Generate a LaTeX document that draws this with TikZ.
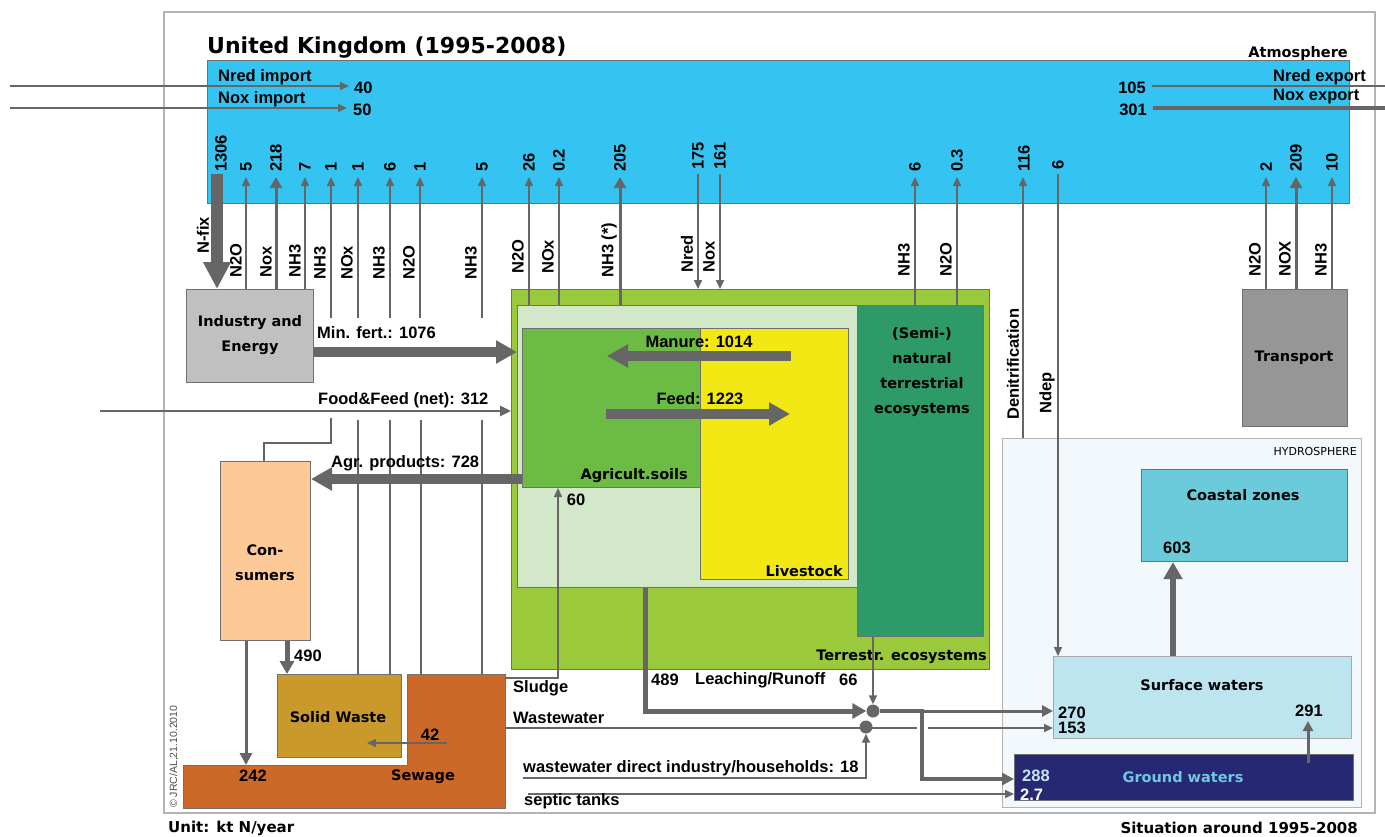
\documentclass[tikz,border=0pt]{standalone}
\usepackage{fontspec}
\setmainfont{Liberation Sans}
\newfontfamily\comic{DejaVu Sans}
\usetikzlibrary{arrows.meta}
\definecolor{arr}{HTML}{666666}
\definecolor{framec}{HTML}{B4B4B4}
\definecolor{boxline}{HTML}{707070}
\definecolor{atmc}{HTML}{35C4F1}
\definecolor{indc}{HTML}{C0C0C0}
\definecolor{agrc}{HTML}{9BC93C}
\definecolor{aglc}{HTML}{D3E8C8}
\definecolor{semic}{HTML}{2E9A68}
\definecolor{soilc}{HTML}{6BBB45}
\definecolor{livec}{HTML}{F2E914}
\definecolor{consc}{HTML}{FCC997}
\definecolor{solidc}{HTML}{C99A2B}
\definecolor{sewc}{HTML}{CC6828}
\definecolor{hydc}{HTML}{F2F8FC}
\definecolor{coastc}{HTML}{6BCBDB}
\definecolor{surfc}{HTML}{BDE5EF}
\definecolor{groundc}{HTML}{272874}
\definecolor{gwtext}{HTML}{6FC8E0}
\definecolor{gwnum}{HTML}{C8E4F4}
\definecolor{transc}{HTML}{969696}
\tikzset{
  box/.style={draw=boxline, line width=1pt, inner sep=0pt, anchor=north west},
  lab/.style={font=\bfseries\fontsize{16.5}{19}\selectfont, inner sep=0pt},
  rlab/.style={lab, rotate=90, anchor=west},
  clab/.style={font=\comic\bfseries\fontsize{14.5}{25}\selectfont, align=center, inner sep=0pt},
  fl/.style={draw=arr, line width=1.5pt},
  fla/.style={fl, -{Triangle[length=9pt,width=8pt]}},
  mfl/.style={draw=arr, line width=3pt, -{Triangle[length=11pt,width=12pt]}},
  bigfl/.style={draw=arr, line width=10pt, -{Triangle[length=21pt,width=22pt]}},
}
\begin{document}
\begin{tikzpicture}[x=1pt,y=-1pt]
\useasboundingbox (0,0) rectangle (1385,836);
\draw[framec, line width=1.5pt] (164,12) rectangle (1375,813);

% ---- boxes
\node[box, fill=atmc, minimum width=1142pt, minimum height=143pt] (atm) at (207,60) {};
\node[box, fill=indc, minimum width=127pt, minimum height=93pt] (ind) at (186,289) {};
\node[box, fill=agrc, minimum width=478pt, minimum height=380pt] (agr) at (511,289) {};
\node[box, fill=aglc, minimum width=340pt, minimum height=282pt] (agl) at (517,305) {};
\node[box, fill=semic, minimum width=126pt, minimum height=331pt] (semi) at (857,305) {};
\node[box, fill=soilc, minimum width=178pt, minimum height=159pt] (soils) at (522,328) {};
\node[box, fill=livec, minimum width=148pt, minimum height=251pt] (live) at (700,328) {};
\node[box, fill=consc, minimum width=90pt, minimum height=179pt] (cons) at (220,461) {};
\node[box, fill=solidc, minimum width=124pt, minimum height=83pt] (solid) at (277,674) {};
\draw[boxline, line width=1pt, fill=sewc] (407,674) -- (505,674) -- (505,808) -- (183,808) -- (183,765) -- (407,765) -- cycle;
\node[inner sep=0pt, minimum width=98pt, minimum height=134pt, anchor=north west] (sew) at (407,674) {};
\node[inner sep=0pt, minimum width=322pt, minimum height=43pt, anchor=north west] (sewlow) at (183,765) {};
\node[box, fill=hydc, draw=framec, minimum width=359pt, minimum height=369pt] (hyd) at (1002,438) {};
\node[box, fill=coastc, minimum width=206pt, minimum height=92pt] (coast) at (1141,469) {};
\node[box, fill=surfc, draw=boxline!60, minimum width=298pt, minimum height=82pt] (surf) at (1053,656) {};
\node[box, fill=groundc, minimum width=339pt, minimum height=46pt] (ground) at (1014,754) {};
\node[box, fill=transc, minimum width=105pt, minimum height=137pt] (trans) at (1242,289) {};

% ---- box texts
\node[font=\comic\bfseries\fontsize{22}{26}\selectfont, anchor=west, inner sep=0pt] (title) at (207,48) {United Kingdom (1995-2008)};
\node[clab, anchor=east] (atmlab) at (1348,53) {Atmosphere};
\node[clab] (indlab) at (250,335) {Industry and\\Energy};
\node[clab] (semilab) at (922,372) {(Semi-)\\natural\\terrestrial\\ecosystems};
\node[clab, anchor=east] (soillab) at (688,476) {Agricult.soils};
\node[clab, anchor=east] (livelab) at (843,571) {Livestock};
\node[clab] (conslab) at (265,563) {Con-\\sumers};
\node[clab] (solidlab) at (338,717) {Solid Waste};
\node[clab] (sewlab) at (423,777) {Sewage};
\node[clab, anchor=east] (terlab) at (987,657) {Terrestr. ecosystems};
\node[clab] (coastlab) at (1243,495) {Coastal zones};
\node[clab] (surflab) at (1202,685) {Surface waters};
\node[clab, text=gwtext] (gwlab) at (1183,777) {Ground waters};
\node[clab] (translab) at (1294,358) {Transport};
\node[font=\comic\fontsize{11}{13}\selectfont, anchor=east, inner sep=0pt] (hydlab) at (1357,451) {HYDROSPHERE};
\node[clab, anchor=west, font=\comic\bfseries\fontsize{15}{18}\selectfont] (unit) at (168,828) {Unit: kt N/year};
\node[clab, anchor=east, font=\comic\bfseries\fontsize{15}{18}\selectfont] (sit) at (1358,828) {Situation around 1995-2008};
\node[rotate=90, anchor=west, inner sep=0pt, font=\fontsize{10.5}{12}\selectfont, text=black!70] (copy) at (174,808) {\textcopyright{} JRC/AL,21.10.2010};

% ---- imports / exports
\coordinate (nredin) at (10,86);
\coordinate (noxin) at (10,108);
\coordinate (nredout) at (1385,86);
\coordinate (noxout) at (1385,108);
\draw[fla] (nredin) -- (349,86);
\draw[fla] (noxin) -- (347,108);
\draw[fl] (1152,86) -- (nredout);
\draw[draw=arr, line width=4pt] (1153,108) -- (noxout);
\node[lab, anchor=west] at (218,77) {Nred import};
\node[lab, anchor=west] at (218,99) {Nox import};
\node[lab, anchor=west] at (354,88) {40};
\node[lab, anchor=west] at (353,110) {50};
\node[lab, anchor=east] at (1146,88) {105};
\node[lab, anchor=east] at (1147,110) {301};
\node[lab, anchor=west] at (1273,77) {Nred export};
\node[lab, anchor=west] at (1273,97) {Nox export};

% ---- N fixation
\draw[draw=arr, line width=12pt, -{Triangle[length=27pt,width=26pt]}] (217,174) -- (ind.north -| 217,0);
\node[rlab] at (221,172) {1306};
\node[rlab] at (203,254) {N-fix};

% ---- emissions to the atmosphere
\foreach \x/\v/\g in {246/5/N2O, 305/7/NH3}{
  \draw[fla] (ind.north -| \x,0) -- (\x,177);
  \node[rlab] at (\x,172) {\v};
  \node[rlab] at (\x-10,278) {\g};
}
\draw[mfl] (ind.north -| 276,0) -- (276,177);
\node[rlab] at (276,172) {218};
\node[rlab] at (266,278) {Nox};
\foreach \x/\v/\g in {331/1/NH3, 358/1/NOx, 390/6/NH3, 420/1/N2O, 482/5/NH3}{
  \draw[fla] (\x,318) -- (\x,177);
  \node[rlab] at (\x,172) {\v};
  \node[rlab] at (\x-11,280) {\g};
}
\foreach \x/\v/\g in {529/26/N2O, 559/0.2/NOx}{
  \draw[fla] (agl.north -| \x,0) -- (\x,177);
  \node[rlab] at (\x,172) {\v};
  \node[rlab] at (\x-11,274) {\g};
}
\draw[mfl] (agl.north -| 620,0) -- (620,177);
\node[rlab] at (620,172) {205};
\node[rlab] at (609,278) {NH3 (*)};
\foreach \x/\v/\g in {915/6/NH3, 957/0.3/N2O}{
  \draw[fla] (semi.north -| \x,0) -- (\x,177);
  \node[rlab] at (\x,172) {\v};
  \node[rlab] at (\x-11,277) {\g};
}
\foreach \x/\v/\g in {1266/2/N2O, 1332/10/NH3}{
  \draw[fla] (trans.north -| \x,0) -- (\x,177);
  \node[rlab] at (\x,172) {\v};
  \node[rlab] at (\x-11,277) {\g};
}
\draw[mfl] (trans.north -| 1296,0) -- (1296,177);
\node[rlab] at (1296,172) {209};
\node[rlab] at (1285,277) {NOX};
\draw[fla] (hyd.north -| 1023,0) -- (1023,177);
\node[rlab] at (1024,172) {116};
\node[rlab] at (1013,420) {Denitrification};

% ---- deposition
\foreach \x/\v/\g in {698/175/Nred, 720/161/Nox}{
  \draw[fla] (\x,174) -- (agr.north -| \x,0);
  \node[rlab] at (\x,170) {\v};
  \node[rlab] at (\x-11,273) {\g};
}
\draw[fla] (1058,174) -- (surf.north -| 1058,0);
\node[rlab] at (1058,170) {6};
\node[rlab] at (1047,414) {Ndep};

% ---- mineral fertiliser, food & feed
\draw[bigfl] (ind.east |- 0,352) -- (agl.west |- 0,352);
\node[lab, anchor=west] at (317,333) {Min. fert.: 1076};
\coordinate (ffin) at (100,411);
\draw[draw=arr, line width=2.5pt, -{Triangle[length=11pt,width=10pt]}] (ffin) -- (agr.west |- ffin);
\node[lab, anchor=west] at (318,400) {Food\&Feed (net): 312};
\draw[fl] (331,418) -- (331,443) -| (cons.north -| 264,0);
\draw[fl] (358,420) -- (solid.north -| 358,0);
\draw[fl] (390,420) -- (solid.north -| 390,0);
\draw[fl] (421,420) -- (sew.north -| 421,0);
\draw[fl] (482,420) -- (sew.north -| 482,0);

% ---- manure / feed / products
\draw[bigfl] (791,356) -- (607,356);
\node[lab] at (699,342) {Manure: 1014};
\draw[bigfl] (606,414) -- (790,414);
\node[lab] at (700,399) {Feed: 1223};
\draw[bigfl] (soils.west |- 0,479) -- (cons.east |- 0,479);
\node[lab, anchor=west] at (331,463) {Agr. products: 728};

% ---- consumers, waste, sewage
\draw[draw=arr, line width=5pt, -{Triangle[length=13pt,width=14pt]}] (cons.south -| 287,0) -- (solid.north -| 287,0);
\node[lab, anchor=west] at (294,656) {490};
\draw[draw=arr, line width=3pt, -{Triangle[length=12pt,width=12pt]}] (cons.south -| 246,0) -- (sewlow.north -| 246,0);
\node[lab] at (253,776) {242};
\draw[fla] (447,743) -- (367,743);
\node[lab] at (430,735) {42};
\draw[fla] (sew.north east |- 0,678) -- (558,678) -- (soils.south -| 558,0);
\node[lab, anchor=west] at (513,688) {Sludge};
\node[lab] at (576,500) {60};

% ---- junctions
\node[circle, fill=arr, inner sep=0pt, minimum size=13pt] (j1) at (873,711) {};
\node[circle, fill=arr, inner sep=0pt, minimum size=13pt] (j2) at (866,727) {};

% wastewater
\draw[fl] (sew.east |- 0,728) -- (917,728);
\draw[fla] (928,728) -- (surf.west |- 0,728);
\node[lab, anchor=west] at (513,718) {Wastewater};

% leaching
\draw[draw=arr, line width=5pt, -{Triangle[length=14pt,width=15pt]}] (agl.south -| 645,0) -- (645,711) -- (j1.west);
\draw[draw=arr, line width=3pt, -{Triangle[length=11pt,width=11pt]}] (922,711) -- (surf.west |- 0,711);
\draw[draw=arr, line width=4.5pt, -{Triangle[length=12pt,width=12pt]}] (j1.east) -- (922,711) -- (922,779) -- (ground.west |- 0,779);
\draw[fla] (semi.south -| j1.north) -- (j1.north);
\node[lab, anchor=west] at (651,680) {489};
\node[lab, anchor=west] at (695,680) {Leaching/Runoff};
\node[lab, anchor=west] at (839,680) {66};

% direct wastewater, septic tanks
\coordinate (wwd) at (523,778);
\draw[fla] (wwd) -- (j2.south |- wwd) -- (j2.south);
\node[lab, anchor=west] at (523,768) {wastewater direct industry/households: 18};
\coordinate (sept) at (528,794);
\draw[fla] (sept) -- (ground.west |- sept);
\node[lab, anchor=west] at (524,801) {septic tanks};

% ---- hydrosphere
\draw[draw=arr, line width=6pt, -{Triangle[length=17pt,width=18pt]}] (surf.north -| 1173,0) -- (coast.south -| 1173,0);
\node[lab] at (1177,548) {603};
\draw[draw=arr, line width=3pt, -{Triangle[length=10pt,width=10pt]}] (ground.north -| 1308,0) ++(0,9) -- (1308,721);
\node[lab] at (1309,711) {291};
\node[lab, anchor=west] at (1058,713) {270};
\node[lab, anchor=west] at (1058,728) {153};
\node[lab, anchor=west, text=gwnum] at (1022,776) {288};
\node[lab, anchor=west, text=white] at (1020,795) {2.7};
\end{tikzpicture}
\end{document}
